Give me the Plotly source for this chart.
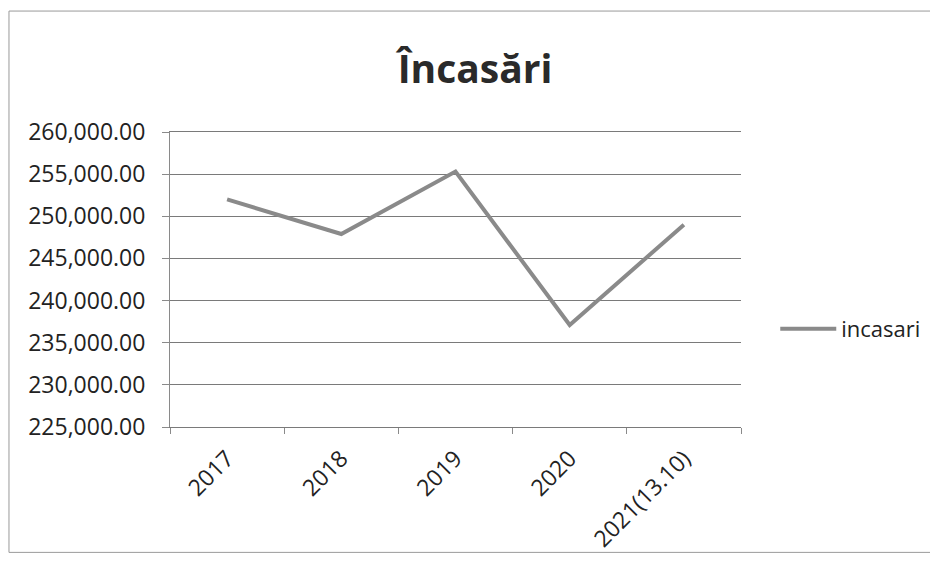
import plotly.graph_objects as go

categories = ["2017", "2018", "2019", "2020", "2021(13.10)"]
incasari = [252000, 247900, 255300, 237100, 249000]
series_name = "incasari"
title_text = "Încasări"
y_ticks = [225000, 230000, 235000, 240000, 245000, 250000, 255000, 260000]
y_tick_labels = [f"{v:,.2f}" for v in y_ticks]

FONT = "Open Sans"
fig = go.Figure()
fig.add_trace(go.Scatter(
    x=categories, y=incasari, mode="lines", name=series_name,
    line=dict(color="#8a8a8a", width=4),
))

W, H = 930, 563
fig.update_layout(
    width=W, height=H,
    margin=dict(l=162, r=197, t=124, b=144),
    paper_bgcolor="white", plot_bgcolor="white",
    font=dict(family=FONT, size=23, color="#222222"),
    title=dict(text=f"<b>{title_text}</b>", x=(467 / W), xanchor="center",
               y=1 - 61 / H, yanchor="middle",
               font=dict(family=FONT, size=39, color="#2a2a2a")),
    showlegend=True,
    legend=dict(x=1.06, xanchor="left", y=0.332, yanchor="middle",
                itemwidth=56,
                font=dict(family=FONT, size=22, color="#222222"),
                bgcolor="rgba(0,0,0,0)"),
    xaxis=dict(type="category", range=[-0.5, 4.5], tickangle=-45,
               showgrid=False, showline=True, mirror=True,
               linecolor="#7a7a7a", linewidth=1,
               ticks="outside", tickson="boundaries", ticklen=6, tickcolor="#8a8a8a",
               ticklabelstandoff=8,
               tickfont=dict(family=FONT, size=23, color="#222222")),
    yaxis=dict(range=[225000, 260000], tickvals=y_ticks, ticktext=y_tick_labels,
               showgrid=True, gridcolor="#7a7a7a", gridwidth=1,
               showline=True, linecolor="#8a8a8a", linewidth=1,
               ticks="outside", ticklen=7, tickcolor="#8a8a8a",
               ticklabelstandoff=12,
               tickfont=dict(family=FONT, size=23, color="#222222"), zeroline=False),
    shapes=[dict(type="rect", xref="paper", yref="paper",
                 x0=-0.282, x1=1.34, y0=-0.425, y1=1.41,
                 line=dict(color="#9a9a9a", width=1), layer="below")],
)

fig.write_html("out.html")
